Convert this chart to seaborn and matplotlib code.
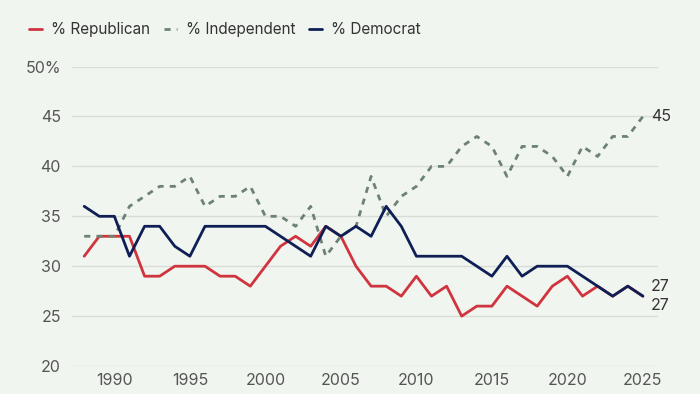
import numpy as np
import pandas as pd
import seaborn as sns
import matplotlib.pyplot as plt

years = list(range(1988, 2026))
republican = [31, 33, 33, 33, 29, 29, 30, 30, 30, 29, 29, 28,
              30, 32, 33, 32, 34, 33, 30, 28, 28, 27,
              29, 27, 28, 25, 26, 26, 28, 27, 26, 28,
              29, 27, 28, 27, 28, 27]
independent = [33, 33, 33, 36, 37, 38, 38, 39, 36, 37, 37, 38,
               35, 35, 34, 36, 31, 33, 34, 39, 35, 37,
               38, 40, 40, 42, 43, 42, 39, 42, 42, 41,
               39, 42, 41, 43, 43, 45]
democrat = [36, 35, 35, 31, 34, 34, 32, 31, 34, 34, 34, 34,
            34, 33, 32, 31, 34, 33, 34, 33, 36, 34,
            31, 31, 31, 31, 30, 29, 31, 29, 30, 30,
            30, 29, 28, 27, 28, 27]
names = ['% Republican', '% Independent', '% Democrat']
colors = ['#d0343f', '#6e8274', '#0f1f55']
y_ticks = [20, 25, 30, 35, 40, 45, 50]
y_labels = ['20', '25', '30', '35', '40', '45', '50%']
x_ticks = [1990, 1995, 2000, 2005, 2010, 2015, 2020, 2025]

df = pd.DataFrame({'year': years, names[0]: republican,
                   names[1]: independent, names[2]: democrat})
long = df.melt(id_vars='year', var_name='party', value_name='pct')

bg = '#f0f6ef'
sns.set_style('white')
plt.rcParams['font.family'] = ['Inter', 'DejaVu Sans']

fig = plt.figure(figsize=(7, 3.94), dpi=100, facecolor=bg)
ax = fig.add_axes([0.103, 0.071, 0.837, 0.760])
ax.set_facecolor(bg)

sns.lineplot(data=long, x='year', y='pct', hue='party', style='party',
             hue_order=names, style_order=names,
             palette=dict(zip(names, colors)),
             dashes={names[0]: '', names[1]: (2.2, 2.2), names[2]: ''},
             linewidth=2, ax=ax)

ax.set_xlim(1987.2, 2026)
ax.set_ylim(20, 50)
ax.set_yticks(y_ticks)
ax.set_yticklabels(y_labels)
ax.set_xticks(x_ticks)
ax.grid(axis='y', color='#d9ddd8', linewidth=1)
ax.set_axisbelow(True)
for s in ax.spines.values():
    s.set_visible(False)
ax.tick_params(length=0, labelsize=11.5, colors='#555555', pad=8)
ax.tick_params(axis='x', pad=5)
ax.set_xlabel('')
ax.set_ylabel('')

# end labels
ax.annotate('45', (2025, independent[-1]), xytext=(6, 0), textcoords='offset points',
            va='center', ha='left', fontsize=11.5, color='#333333', annotation_clip=False)
ax.annotate('27', (2025, democrat[-1]), xytext=(6, 7), textcoords='offset points',
            va='center', ha='left', fontsize=11.5, color='#333333', annotation_clip=False)
ax.annotate('27', (2025, republican[-1]), xytext=(6, -7), textcoords='offset points',
            va='center', ha='left', fontsize=11.5, color='#333333', annotation_clip=False)

sns.move_legend(ax, 'upper left', bbox_to_anchor=(-0.097, 1.195), ncol=3, frameon=False,
                title=None, fontsize=11, handlelength=0.85, handletextpad=0.6,
                columnspacing=0.9, labelcolor='#333333')

fig.savefig('out.png', dpi=100, facecolor=bg)
